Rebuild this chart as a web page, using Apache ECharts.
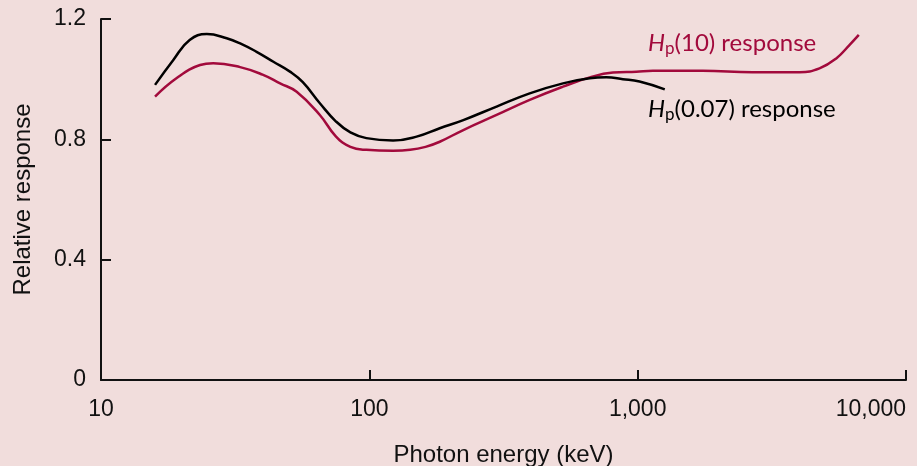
<!DOCTYPE html>
<html>
<head>
<meta charset="utf-8">
<script src="https://cdn.jsdelivr.net/npm/echarts@6/dist/echarts.min.js"></script>
<style>html,body{margin:0;padding:0;background:#f1dddc;}#c{width:917px;height:466px;}</style>
</head>
<body>
<div id="c"></div>
<script>
// Photon energy (keV) and relative response
const hp007Energy = [15.9, 18.6, 21.4, 24.8, 29.4, 33.0, 38.0, 43.9, 50.6, 56.5, 65.4, 75.0, 85.0, 97.5, 122.6, 150, 183, 224, 298, 396, 527, 663, 764, 881, 1016, 1262];
const hp007Value  = [0.981, 1.064, 1.130, 1.150, 1.136, 1.119, 1.091, 1.058, 1.025, 0.990, 0.920, 0.860, 0.823, 0.804, 0.796, 0.809, 0.837, 0.864, 0.909, 0.953, 0.986, 1.003, 1.006, 1.000, 0.992, 0.966];
const hp10Energy = [15.9, 19.1, 23.4, 26.2, 33.0, 40.0, 46.5, 53.6, 65.4, 75.0, 85.0, 97.5, 122.6, 142, 162, 183, 224, 298, 396, 527, 663, 809, 988, 1140, 1746, 2680, 4010, 4760, 5495, 6165, 6670];
const hp10Value  = [0.942, 1.003, 1.047, 1.053, 1.040, 1.015, 0.986, 0.958, 0.881, 0.810, 0.775, 0.765, 0.762, 0.765, 0.775, 0.792, 0.831, 0.881, 0.931, 0.975, 1.006, 1.022, 1.025, 1.028, 1.028, 1.023, 1.023, 1.036, 1.069, 1.114, 1.147];
const yTicks = [0, 0.4, 0.8, 1.2];
const xTickLabels = {10: '10', 100: '100', 1000: '1,000', 10000: '10,000'};

const zip = (a, b) => a.map((v, i) => [v, b[i]]);
const chart = echarts.init(document.getElementById('c'));
const axisFont = 'Liberation Sans, Arial, sans-serif';
const labelFont = 'Lato, Open Sans, sans-serif';
const red = '#a20a3c';
chart.setOption({
  backgroundColor: '#f1dddc',
  animation: false,
  grid: {left: 101, right: 11, top: 19, bottom: 86, containLabel: false, outerBoundsMode: 'none'},
  xAxis: {
    type: 'log', logBase: 10, min: 10, max: 10000,
    name: 'Photon energy (keV)', nameLocation: 'middle', nameGap: 63,
    nameTextStyle: {fontFamily: axisFont, fontSize: 24, color: '#111'},
    axisLine: {lineStyle: {color: '#111', width: 2}},
    axisTick: {inside: true, length: 10, lineStyle: {color: '#111', width: 2}},
    axisLabel: {fontFamily: axisFont, fontSize: 23, color: '#111', margin: 18, alignMaxLabel: 'right',
      formatter: v => xTickLabels[Math.round(v)] || ''},
    splitLine: {show: false}, minorTick: {show: false}
  },
  yAxis: {
    type: 'value', min: 0, max: 1.2, interval: 0.4,
    name: 'Relative response', nameLocation: 'middle', nameGap: 66,
    nameTextStyle: {fontFamily: axisFont, fontSize: 24, color: '#111'},
    axisLine: {show: true, lineStyle: {color: '#111', width: 2}},
    axisTick: {show: true, inside: true, length: 10, lineStyle: {color: '#111', width: 2}},
    axisLabel: {fontFamily: axisFont, fontSize: 23, color: '#111', margin: 15,
      formatter: v => { const t = yTicks.find(x => Math.abs(x - v) < 1e-6); return t === undefined ? '' : String(t); }},
    splitLine: {show: false}
  },
  series: [
    {type: 'line', name: 'Hp(10)', data: zip(hp10Energy, hp10Value), smooth: 0.45, showSymbol: false,
      lineStyle: {color: red, width: 2.5}, z: 2},
    {type: 'line', name: 'Hp(0.07)', data: zip(hp007Energy, hp007Value), smooth: 0.45, showSymbol: false,
      lineStyle: {color: '#000', width: 2.5}, z: 3}
  ],
  graphic: [
    {type: 'text', left: 648, top: 31, style: {
      text: '{h|H}{s|p}{n|(10) response}',
      rich: {
        h: {fontFamily: labelFont, fontStyle: 'italic', fontSize: 24, fill: red},
        s: {fontFamily: labelFont, fontSize: 17, fill: red, padding: [11, 0, 0, 0]},
        n: {fontFamily: labelFont, fontSize: 24, fill: red}
      }}},
    {type: 'text', left: 648, top: 97, style: {
      text: '{h|H}{s|p}{n|(0.07) response}',
      rich: {
        h: {fontFamily: labelFont, fontStyle: 'italic', fontSize: 24, fill: '#000'},
        s: {fontFamily: labelFont, fontSize: 17, fill: '#000', padding: [11, 0, 0, 0]},
        n: {fontFamily: labelFont, fontSize: 24, fill: '#000'}
      }}}
  ]
});
</script>
</body>
</html>
